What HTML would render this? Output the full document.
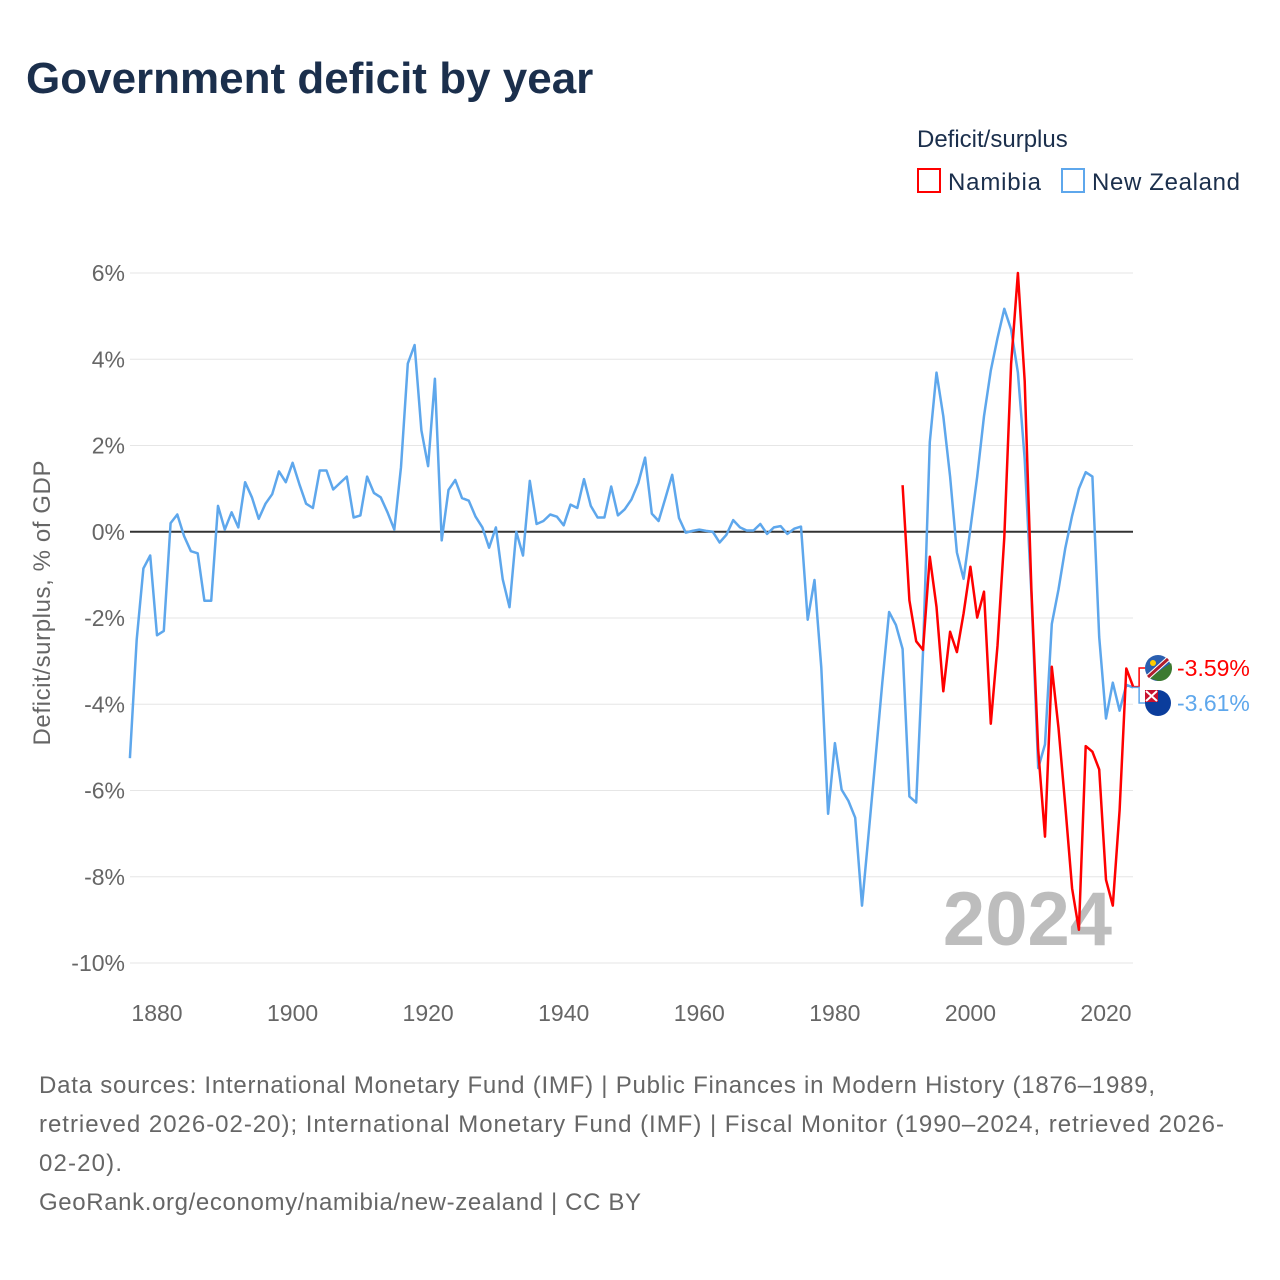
<!DOCTYPE html>
<html><head><meta charset="utf-8"><style>
body{margin:0;background:#fff;font-family:"Liberation Sans",sans-serif;}
svg{display:block}
</style></head><body>
<svg width="1280" height="1280" viewBox="0 0 1280 1280" xmlns="http://www.w3.org/2000/svg" font-family="Liberation Sans, sans-serif">
<text x="26" y="93" font-size="44" font-weight="bold" fill="#1b2f4c">Government deficit by year</text>
<text x="917" y="147" font-size="24" fill="#1b2f4c">Deficit/surplus</text>
<g>
<rect x="918" y="169" width="22" height="23" fill="none" stroke="#ff0000" stroke-width="2"/>
<text x="948" y="190" font-size="24" fill="#1b2f4c" textLength="93">Namibia</text></g>
<g>
<rect x="1062" y="169" width="22" height="23" fill="none" stroke="#5ea7ec" stroke-width="2"/>
<text x="1092" y="190" font-size="24" fill="#1b2f4c" textLength="148">New Zealand</text></g>
<g id="grid"></g>
<g id="yticks"></g>
<g id="xticks"></g>
<text transform="translate(50,603) rotate(-90)" text-anchor="middle" font-size="24" fill="#666" textLength="285">Deficit/surplus, % of GDP</text>
<text x="1112" y="945" text-anchor="end" font-size="76" font-weight="bold" fill="#bdbdbd">2024</text>
<g id="series"></g>
<g id="endlabels"></g>
<g font-size="24" fill="#666">
<text x="39" y="1093" textLength="1116">Data sources: International Monetary Fund (IMF) | Public Finances in Modern History (1876–1989,</text>
<text x="39" y="1132" textLength="1185">retrieved 2026-02-20); International Monetary Fund (IMF) | Fiscal Monitor (1990–2024, retrieved 2026-</text>
<text x="39" y="1171" textLength="83">02-20).</text>
<text x="39" y="1210" textLength="602">GeoRank.org/economy/namibia/new-zealand | CC BY</text>
</g>
</svg>
<script>
const yTicks=[6,4,2,0,-2,-4,-6,-8,-10];
const yTickLabels=["6%","4%","2%","0%","-2%","-4%","-6%","-8%","-10%"];
const xTicks=[1880,1900,1920,1940,1960,1980,2000,2020];
const nzStartYear=1876;
const nzValues=[-5.25,-2.5,-0.85,-0.55,-2.4,-2.3,0.2,0.4,-0.1,-0.45,-0.5,-1.6,-1.6,0.6,0.05,0.45,0.1,1.15,0.8,0.3,0.65,0.87,1.4,1.15,1.6,1.1,0.65,0.55,1.42,1.42,0.98,1.13,1.28,0.33,0.38,1.28,0.9,0.8,0.45,0.05,1.5,3.9,4.33,2.35,1.52,3.55,-0.2,0.97,1.2,0.78,0.72,0.35,0.1,-0.37,0.1,-1.1,-1.75,0,-0.55,1.18,0.18,0.25,0.4,0.35,0.15,0.63,0.55,1.22,0.6,0.33,0.33,1.05,0.38,0.52,0.75,1.13,1.72,0.42,0.25,0.78,1.32,0.32,-0.02,0.02,0.05,0.02,0,-0.25,-0.07,0.27,0.1,0.03,0.03,0.18,-0.05,0.1,0.13,-0.05,0.07,0.12,-2.04,-1.12,-3.15,-6.54,-4.9,-5.98,-6.24,-6.63,-8.67,-6.96,-5.26,-3.5,-1.86,-2.16,-2.72,-6.14,-6.28,-2.8,2.08,3.69,2.68,1.28,-0.48,-1.09,0.07,1.28,2.68,3.74,4.49,5.17,4.69,3.69,1.68,-1.44,-5.48,-4.93,-2.14,-1.34,-0.38,0.37,1.0,1.38,1.28,-2.44,-4.33,-3.5,-4.15,-3.55,-3.61];
const naStartYear=1990;
const naValues=[1.08,-1.59,-2.54,-2.74,-0.58,-1.74,-3.7,-2.32,-2.79,-1.89,-0.81,-1.99,-1.39,-4.45,-2.64,-0.13,3.89,6.0,3.49,-1.34,-5.06,-7.07,-3.13,-4.55,-6.36,-8.27,-9.23,-4.97,-5.1,-5.51,-8.07,-8.67,-6.46,-3.17,-3.59];
const NS="http://www.w3.org/2000/svg";
const X=yr=>157+(yr-1880)*(949/140);
const Y=v=>531.75-v*43.125;
function mk(t,a,p){const e=document.createElementNS(NS,t);for(const k in a)e.setAttribute(k,a[k]);p.appendChild(e);return e;}
const grid=document.getElementById('grid'),yt=document.getElementById('yticks'),xt=document.getElementById('xticks');
yTicks.forEach((v,i)=>{
 const l=mk('line',{x1:130,x2:1133,y1:Y(v),y2:Y(v),stroke:v===0?'#333':'#e6e6e6','stroke-width':v===0?2:1},grid);
 
 
 const t=mk('text',{x:125,y:Y(v)+8,'text-anchor':'end','font-size':23,fill:'#666'},yt);
 t.textContent=yTickLabels[i];
 
 
});
xTicks.forEach(yr=>{
 const t=mk('text',{x:X(yr),y:1021,'text-anchor':'middle','font-size':23,fill:'#666'},xt);
 t.textContent=yr;
 
 
});
const ser=document.getElementById('series');
function line(start,vals,col,name){
 const pts=vals.map((v,i)=>X(start+i).toFixed(1)+','+Y(v).toFixed(1)).join(' ');
 const p=mk('polyline',{points:pts,fill:'none',stroke:col,'stroke-width':2.5,'stroke-linejoin':'round'},ser);
 
 
}
line(nzStartYear,nzValues,'#5ea7ec','line-new-zealand');
line(naStartYear,naValues,'#ff0000','line-namibia');
const el=document.getElementById('endlabels');
const nzLast=nzValues[nzValues.length-1],naLast=naValues[naValues.length-1];
const ex=X(2024);
function endLabel(v,ly,col,name,flag){
 const g=mk('g',{},el);
 
 
 mk('polyline',{points:`${ex},${Y(v)} ${ex+6},${Y(v)} ${ex+6},${ly} ${ex+12},${ly}`,fill:'none',stroke:col,'stroke-width':1.5},g);
 if(flag==='na'){
  mk('circle',{cx:1158,cy:ly,r:13,fill:'#2a5fb0'},g);
  mk('path',{d:`M1149,${ly+10} L1171,${ly-5} A13,13 0 0 1 1158,${ly+13} Z`,fill:'#3c7a30'},g);
  mk('line',{x1:1148,y1:ly+9,x2:1168,y2:ly-9,stroke:'#fff','stroke-width':5},g);
  mk('line',{x1:1148,y1:ly+9,x2:1168,y2:ly-9,stroke:'#b01e2e','stroke-width':3},g);
  mk('circle',{cx:1153,cy:ly-5,r:3,fill:'#ffcc00'},g);
 } else {
  mk('circle',{cx:1158,cy:ly,r:13,fill:'#0b3d9c'},g);
  mk('rect',{x:1145,y:ly-13,width:13,height:12,fill:'#c8102e'},g);
  mk('path',{d:`M1146,${ly-12} L1157,${ly-2} M1157,${ly-12} L1146,${ly-2}`,stroke:'#fff','stroke-width':2},g);
 }
 const t=mk('text',{x:1177,y:ly+8,'font-size':23,fill:col},g);
 t.textContent=v.toFixed(2)+'%';
}
endLabel(naLast,668,'#ff0000','end-label-namibia','na');
endLabel(nzLast,703,'#5ea7ec','end-label-new-zealand','nz');
</script>
</body></html>
